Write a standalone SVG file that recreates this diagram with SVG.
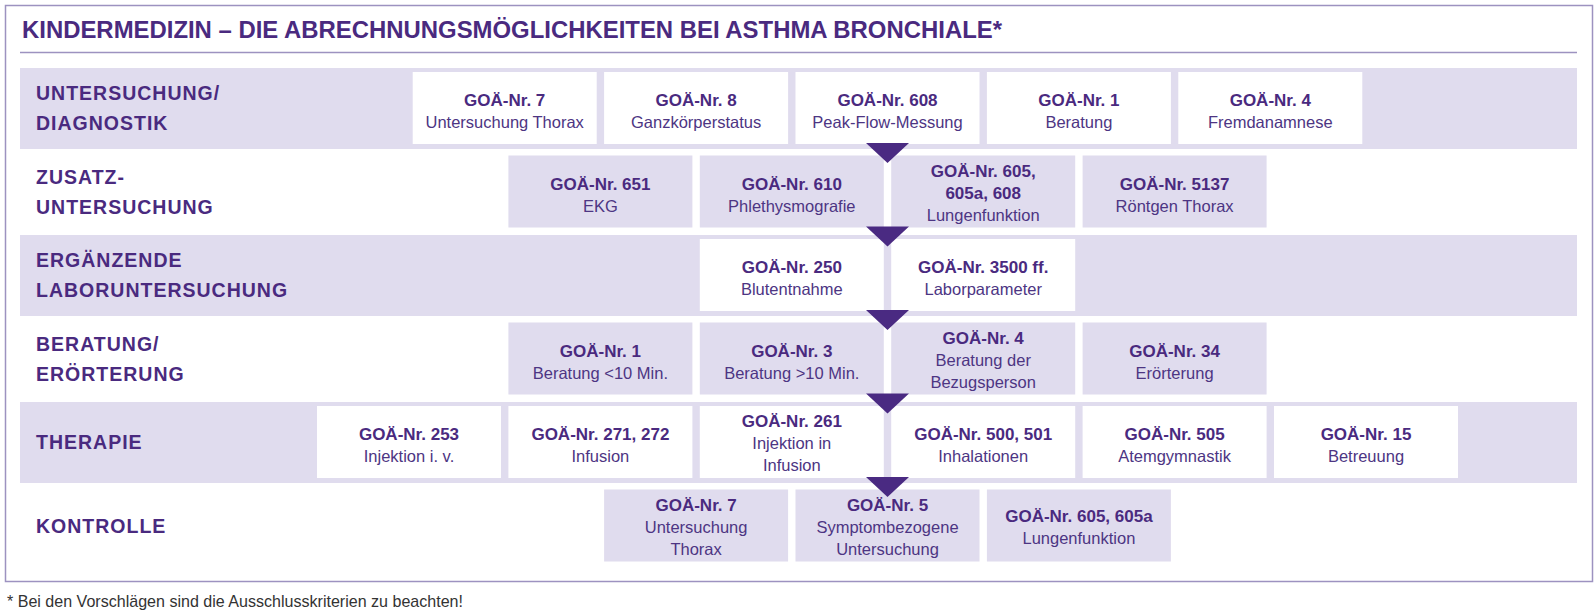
<svg xmlns="http://www.w3.org/2000/svg" width="1596" height="613" viewBox="0 0 1596 613">
<style>
.frame{fill:none;stroke:#9d92c0;stroke-width:1.5}
.band{fill:#e0dcee}
.bw{fill:#ffffff}
.bl{fill:#e0dcee}
.title{font-family:"Liberation Sans",Arial,sans-serif;font-weight:bold;font-size:23px;fill:#4a2a7f}
.lab{font-family:"Liberation Sans",Arial,sans-serif;font-weight:bold;font-size:19.5px;letter-spacing:1px;fill:#4a2a7f}
.t1{font-family:"Liberation Sans",Arial,sans-serif;font-weight:bold;font-size:17px;fill:#4a2a7f;text-anchor:middle}
.t2{font-family:"Liberation Sans",Arial,sans-serif;font-size:16.5px;fill:#4d3583;text-anchor:middle}
.foot{font-family:"Liberation Sans",Arial,sans-serif;font-size:17px;fill:#333333}
.arr{fill:#4a2a82}
</style>
<rect x="0" y="0" width="1596" height="613" fill="#ffffff"/>
<rect class="frame" x="5.5" y="5.5" width="1587" height="576"/>
<text class="title" x="22" y="37.5" textLength="980" lengthAdjust="spacingAndGlyphs">KINDERMEDIZIN – DIE ABRECHNUNGSMÖGLICHKEITEN BEI ASTHMA BRONCHIALE*</text>
<line x1="20" y1="52.5" x2="1577" y2="52.5" stroke="#9d92c0" stroke-width="1.5"/>

<g id="bands">
<rect class="band" x="20" y="68" width="1557" height="81"/>
<rect class="band" x="20" y="235" width="1557" height="81"/>
<rect class="band" x="20" y="402" width="1557" height="81"/>
</g>

<g id="row-labels">
<text class="lab" x="36" y="100">UNTERSUCHUNG/</text>
<text class="lab" x="36" y="130">DIAGNOSTIK</text>
<text class="lab" x="36" y="183.5">ZUSATZ-</text>
<text class="lab" x="36" y="213.5">UNTERSUCHUNG</text>
<text class="lab" x="36" y="267">ERGÄNZENDE</text>
<text class="lab" x="36" y="297">LABORUNTERSUCHUNG</text>
<text class="lab" x="36" y="350.5">BERATUNG/</text>
<text class="lab" x="36" y="380.5">ERÖRTERUNG</text>
<text class="lab" x="36" y="449">THERAPIE</text>
<text class="lab" x="36" y="532.5">KONTROLLE</text>
</g>

<!-- Row 1 -->
<g id="r1-goa7"><rect class="bw" x="412.7" y="72" width="184" height="72"/><text class="t1" x="504.7" y="106">GOÄ-Nr. 7</text><text class="t2" x="504.7" y="128">Untersuchung Thorax</text></g>
<g id="r1-goa8"><rect class="bw" x="604.1" y="72" width="184" height="72"/><text class="t1" x="696.1" y="106">GOÄ-Nr. 8</text><text class="t2" x="696.1" y="128">Ganzkörperstatus</text></g>
<g id="r1-goa608"><rect class="bw" x="795.5" y="72" width="184" height="72"/><text class="t1" x="887.5" y="106">GOÄ-Nr. 608</text><text class="t2" x="887.5" y="128">Peak-Flow-Messung</text></g>
<g id="r1-goa1"><rect class="bw" x="986.9" y="72" width="184" height="72"/><text class="t1" x="1078.9" y="106">GOÄ-Nr. 1</text><text class="t2" x="1078.9" y="128">Beratung</text></g>
<g id="r1-goa4"><rect class="bw" x="1178.3" y="72" width="184" height="72"/><text class="t1" x="1270.3" y="106">GOÄ-Nr. 4</text><text class="t2" x="1270.3" y="128">Fremdanamnese</text></g>

<!-- Row 2 -->
<g id="r2-goa651"><rect class="bl" x="508.4" y="155.5" width="184" height="72"/><text class="t1" x="600.4" y="189.5">GOÄ-Nr. 651</text><text class="t2" x="600.4" y="211.5">EKG</text></g>
<g id="r2-goa610"><rect class="bl" x="699.8" y="155.5" width="184" height="72"/><text class="t1" x="791.8" y="189.5">GOÄ-Nr. 610</text><text class="t2" x="791.8" y="211.5">Phlethysmografie</text></g>
<g id="r2-goa605"><rect class="bl" x="891.2" y="155.5" width="184" height="72"/><text class="t1" x="983.2" y="176.5">GOÄ-Nr. 605,</text><text class="t1" x="983.2" y="198.5">605a, 608</text><text class="t2" x="983.2" y="220.5">Lungenfunktion</text></g>
<g id="r2-goa5137"><rect class="bl" x="1082.6" y="155.5" width="184" height="72"/><text class="t1" x="1174.6" y="189.5">GOÄ-Nr. 5137</text><text class="t2" x="1174.6" y="211.5">Röntgen Thorax</text></g>

<!-- Row 3 -->
<g id="r3-goa250"><rect class="bw" x="699.8" y="239" width="184" height="72"/><text class="t1" x="791.8" y="273">GOÄ-Nr. 250</text><text class="t2" x="791.8" y="295">Blutentnahme</text></g>
<g id="r3-goa3500"><rect class="bw" x="891.2" y="239" width="184" height="72"/><text class="t1" x="983.2" y="273">GOÄ-Nr. 3500 ff.</text><text class="t2" x="983.2" y="295">Laborparameter</text></g>

<!-- Row 4 -->
<g id="r4-goa1"><rect class="bl" x="508.4" y="322.5" width="184" height="72"/><text class="t1" x="600.4" y="356.5">GOÄ-Nr. 1</text><text class="t2" x="600.4" y="378.5">Beratung &lt;10 Min.</text></g>
<g id="r4-goa3"><rect class="bl" x="699.8" y="322.5" width="184" height="72"/><text class="t1" x="791.8" y="356.5">GOÄ-Nr. 3</text><text class="t2" x="791.8" y="378.5">Beratung &gt;10 Min.</text></g>
<g id="r4-goa4"><rect class="bl" x="891.2" y="322.5" width="184" height="72"/><text class="t1" x="983.2" y="343.5">GOÄ-Nr. 4</text><text class="t2" x="983.2" y="365.5">Beratung der</text><text class="t2" x="983.2" y="387.5">Bezugsperson</text></g>
<g id="r4-goa34"><rect class="bl" x="1082.6" y="322.5" width="184" height="72"/><text class="t1" x="1174.6" y="356.5">GOÄ-Nr. 34</text><text class="t2" x="1174.6" y="378.5">Erörterung</text></g>

<!-- Row 5 -->
<g id="r5-goa253"><rect class="bw" x="317" y="406" width="184" height="72"/><text class="t1" x="409" y="440">GOÄ-Nr. 253</text><text class="t2" x="409" y="462">Injektion i. v.</text></g>
<g id="r5-goa271"><rect class="bw" x="508.4" y="406" width="184" height="72"/><text class="t1" x="600.4" y="440">GOÄ-Nr. 271, 272</text><text class="t2" x="600.4" y="462">Infusion</text></g>
<g id="r5-goa261"><rect class="bw" x="699.8" y="406" width="184" height="72"/><text class="t1" x="791.8" y="427">GOÄ-Nr. 261</text><text class="t2" x="791.8" y="449">Injektion in</text><text class="t2" x="791.8" y="471">Infusion</text></g>
<g id="r5-goa500"><rect class="bw" x="891.2" y="406" width="184" height="72"/><text class="t1" x="983.2" y="440">GOÄ-Nr. 500, 501</text><text class="t2" x="983.2" y="462">Inhalationen</text></g>
<g id="r5-goa505"><rect class="bw" x="1082.6" y="406" width="184" height="72"/><text class="t1" x="1174.6" y="440">GOÄ-Nr. 505</text><text class="t2" x="1174.6" y="462">Atemgymnastik</text></g>
<g id="r5-goa15"><rect class="bw" x="1274" y="406" width="184" height="72"/><text class="t1" x="1366" y="440">GOÄ-Nr. 15</text><text class="t2" x="1366" y="462">Betreuung</text></g>

<!-- Row 6 -->
<g id="r6-goa7"><rect class="bl" x="604.1" y="489.5" width="184" height="72"/><text class="t1" x="696.1" y="510.5">GOÄ-Nr. 7</text><text class="t2" x="696.1" y="532.5">Untersuchung</text><text class="t2" x="696.1" y="554.5">Thorax</text></g>
<g id="r6-goa5"><rect class="bl" x="795.5" y="489.5" width="184" height="72"/><text class="t1" x="887.5" y="510.5">GOÄ-Nr. 5</text><text class="t2" x="887.5" y="532.5">Symptombezogene</text><text class="t2" x="887.5" y="554.5">Untersuchung</text></g>
<g id="r6-goa605"><rect class="bl" x="986.9" y="489.5" width="184" height="72"/><text class="t1" x="1078.9" y="521.5">GOÄ-Nr. 605, 605a</text><text class="t2" x="1078.9" y="543.5">Lungenfunktion</text></g>

<g id="connectors">
<polygon class="arr" points="866,143 909,143 887.5,163"/>
<polygon class="arr" points="866,226.5 909,226.5 887.5,246.5"/>
<polygon class="arr" points="866,310 909,310 887.5,330"/>
<polygon class="arr" points="866,393.5 909,393.5 887.5,413.5"/>
<polygon class="arr" points="866,477 909,477 887.5,497"/>
</g>

<text class="foot" x="7" y="606.5" textLength="456" lengthAdjust="spacingAndGlyphs">* Bei den Vorschlägen sind die Ausschlusskriterien zu beachten!</text>
</svg>
